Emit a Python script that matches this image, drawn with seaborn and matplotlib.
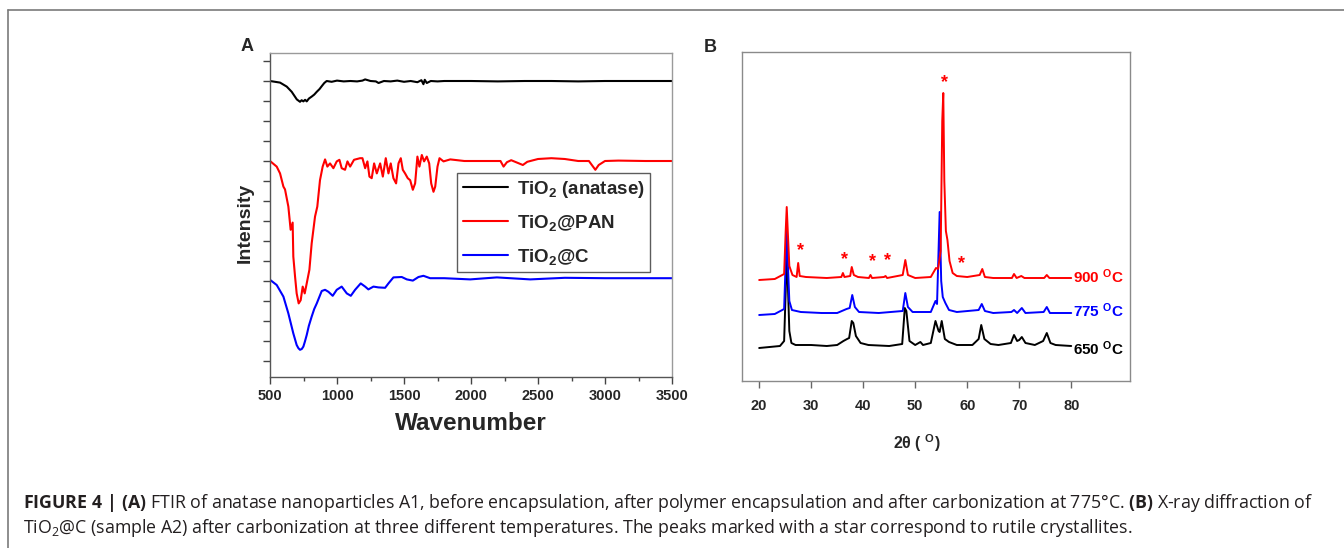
import numpy as np
import pandas as pd
import seaborn as sns
import matplotlib
matplotlib.use("Agg")
import matplotlib.pyplot as plt
from matplotlib.lines import Line2D
from matplotlib.ticker import MultipleLocator
from matplotlib import font_manager

# ---- FTIR (panel A) ----
black_wn = [500, 575, 625, 662, 700, 724, 736, 749, 762, 774, 790, 811, 830, 849, 870, 886, 905, 923, 960, 1000,
            1050, 1100, 1150, 1190, 1210, 1250, 1290, 1310, 1350, 1400, 1450, 1500, 1550, 1600, 1630, 1645, 1655, 1670,
            1700, 1750, 1800, 1900, 2000, 2200, 2400, 2600, 2800, 3000, 3200, 3500]
black_y = [7.0, 6.96, 6.86, 6.73, 6.54, 6.48, 6.52, 6.49, 6.53, 6.49, 6.56, 6.61, 6.66, 6.73, 6.8, 6.87, 6.95, 7.0, 6.98, 7.01,
           6.99, 7.0, 6.99, 7.01, 7.04, 7.0, 6.99, 6.95, 7.0, 6.99, 7.01, 6.98, 7.0, 6.97, 7.02, 6.92, 7.03, 6.95,
           7.0, 6.99, 7.0, 7.0, 7.0, 6.99, 7.0, 7.0, 6.99, 7.0, 7.0, 7.0]

red_wn = [500, 550, 575, 600, 612, 637, 654, 669, 674, 687, 699, 714, 729, 744, 759, 774, 794, 811, 836, 853,
          873, 893, 911, 928, 948, 973, 998, 1018, 1035, 1060, 1078, 1098, 1127, 1172, 1190, 1210, 1227, 1242, 1259, 1277,
          1297, 1322, 1342, 1364, 1384, 1401, 1421, 1441, 1459, 1476, 1491, 1508, 1528, 1546, 1566, 1583, 1600, 1615, 1633, 1650,
          1670, 1688, 1703, 1720, 1733, 1750, 1765, 1795, 1845, 1950, 2100, 2220, 2243, 2268, 2300, 2387, 2420, 2500, 2600, 2700,
          2800, 2880, 2928, 2953, 3000, 3100, 3300, 3500]
red_y = [5.0, 4.86, 4.69, 4.36, 4.29, 3.86, 3.28, 3.46, 2.61, 2.11, 1.69, 1.44, 1.52, 1.86, 1.69, 1.94, 2.28, 2.94, 3.61, 3.86,
         4.52, 4.86, 5.04, 4.86, 4.94, 4.82, 4.99, 5.03, 4.82, 4.78, 4.99, 4.86, 5.03, 5.07, 5.07, 4.82, 4.99, 4.61, 4.57, 4.94,
         4.69, 4.94, 4.61, 5.07, 4.69, 4.94, 4.57, 4.44, 4.94, 5.07, 4.78, 4.69, 4.57, 4.52, 4.28, 4.44, 5.11, 4.86, 5.15, 4.99,
         5.11, 4.94, 4.44, 4.23, 4.36, 4.86, 5.07, 4.99, 5.04, 5.0, 5.0, 5.0, 4.86, 4.97, 5.02, 4.9, 4.98, 5.05, 5.07, 5.05,
         5.0, 5.0, 4.78, 4.9, 5.0, 5.01, 5.0, 5.0]

blue_wn = [500, 550, 600, 637, 674, 699, 712, 724, 737, 749, 760, 774, 790, 811, 830, 849, 886, 911, 936, 968,
           998, 1035, 1073, 1103, 1135, 1177, 1210, 1234, 1272, 1309, 1359, 1384, 1421, 1483, 1521, 1566, 1608, 1645, 1695, 1800,
           1994, 2193, 2442, 2700, 3000, 3500]
blue_y = [2.03, 1.9, 1.61, 1.19, 0.69, 0.4, 0.32, 0.28, 0.3, 0.36, 0.48, 0.65, 0.88, 1.11, 1.3, 1.44, 1.75, 1.78, 1.73, 1.63,
          1.78, 1.86, 1.69, 1.63, 1.78, 1.94, 1.86, 1.79, 1.86, 1.84, 1.83, 1.94, 2.09, 2.1, 2.04, 2.01, 2.1, 2.13, 2.07, 2.07,
          2.04, 2.09, 2.04, 2.08, 2.07, 2.07]

ftir_labels = ["TiO$_2$ (anatase)", "TiO$_2$@PAN", "TiO$_2$@C"]

# ---- XRD (panel B) ----
t650 = [20, 22, 24, 24.8, 25.1, 25.3, 25.5, 25.8, 26.2, 27, 30, 33, 35, 36.2, 36.9, 37.3, 37.8, 38.1, 38.6, 39.5,
        41, 45, 47.5, 48.0, 48.3, 48.9, 50, 51, 51.5, 53, 53.9, 54.5, 54.7, 55.1, 55.7, 56.5, 58, 61, 62.2, 62.7,
        63.3, 64.5, 66, 68.4, 69.0, 69.6, 70.0, 70.5, 71.2, 73, 74.6, 75.3, 76.0, 77, 80]
i650 = [33, 34, 35, 40, 90, 131, 100, 50, 38, 36, 36, 35, 36, 40, 42, 43, 60, 58, 45, 38,
        36, 35, 37, 73, 70, 40, 36, 39, 36, 38, 60, 50, 49, 60, 42, 39, 36, 36, 42, 56,
        42, 37, 36, 38, 46, 40, 41, 44, 38, 36, 40, 48, 38, 36, 35]

t775 = [20, 23, 24.8, 25.1, 25.3, 25.5, 25.8, 26.3, 28, 32, 35, 36.8, 37.4, 37.9, 38.4, 39.2, 43, 47.6, 48.1, 48.6,
        49.5, 53, 53.9, 54.2, 54.7, 55.0, 55.3, 55.8, 56.5, 58, 62.2, 62.8, 63.4, 65, 68.5, 69.0, 69.6, 70.5, 71.2, 74.7,
        75.3, 75.9, 80]
i775 = [66, 67, 72, 120, 151, 120, 80, 71, 69, 68, 68, 72, 73, 86, 74, 69, 68, 70, 88, 74,
        69, 69, 80, 77, 169, 100, 84, 78, 71, 69, 71, 77, 70, 68, 69, 71, 68, 73, 68, 69,
        74, 68, 68]

t900 = [20, 23, 24.8, 25.1, 25.3, 25.5, 25.8, 26.4, 27.2, 27.5, 27.8, 29, 33, 35.8, 36.1, 36.4, 37.5, 37.8, 38.2, 39,
        41.1, 41.4, 41.7, 44, 44.3, 44.6, 47.6, 48.1, 48.6, 50, 53, 54.0, 54.4, 54.9, 55.2, 55.4, 55.6, 55.9, 56.2, 56.6,
        57.2, 58, 60, 62.4, 62.9, 63.4, 65, 68.6, 69.0, 69.5, 70.4, 71, 74.8, 75.3, 75.8, 80]
i900 = [101, 102, 107, 150, 174, 150, 115, 106, 104, 118, 105, 104, 103, 104, 108, 104, 105, 114, 106, 104,
        103, 106, 103, 104, 105, 103, 106, 121, 106, 103, 104, 113, 112, 130, 260, 288, 200, 150, 141, 120,
        108, 105, 104, 106, 112, 104, 103, 103, 107, 103, 105, 103, 103, 106, 103, 103]

xrd_labels = ["900 $^{O}$C", "775 $^{O}$C", "650 $^{O}$C"]
label_y = [104, 70, 32]
star_t = [28.0, 36.5, 41.8, 44.7, 55.7, 58.9]
star_i = [130, 121, 119, 120, 298, 117]

W, H = 1344, 548

sns.set_theme(style="ticks")
available = {f.name for f in font_manager.fontManager.ttflist}
narrow = "Liberation Sans Narrow" if "Liberation Sans Narrow" in available else "Liberation Sans"
plt.rcParams["font.family"] = ["Liberation Sans", "DejaVu Sans"]
plt.rcParams["mathtext.fontset"] = "custom"
plt.rcParams["mathtext.rm"] = "Open Sans"
plt.rcParams["mathtext.bf"] = "Open Sans:bold"
plt.rcParams["mathtext.it"] = "Open Sans:italic"
plt.rcParams["mathtext.default"] = "regular"


def fx(px):
    return px / W


def fy(py):
    return 1 - py / H


fig = plt.figure(figsize=(W / 100, H / 100), dpi=100)

# outer frame of the figure page
fig.add_artist(Line2D([fx(8), 1], [fy(10), fy(10)], transform=fig.transFigure, color="#7a7a7a", lw=1.2))
fig.add_artist(Line2D([fx(8), fx(8)], [0, fy(10)], transform=fig.transFigure, color="#7a7a7a", lw=1.2))

# ---------------- panel A ----------------
axA = fig.add_axes([fx(270), fy(377), fx(672) - fx(270), fy(53) - fy(377)])
ftir = pd.concat([
    pd.DataFrame({"wn": black_wn, "y": black_y, "s": ftir_labels[0]}),
    pd.DataFrame({"wn": red_wn, "y": red_y, "s": ftir_labels[1]}),
    pd.DataFrame({"wn": blue_wn, "y": blue_y, "s": ftir_labels[2]}),
])
sns.lineplot(data=ftir, x="wn", y="y", hue="s", palette=["black", "red", "blue"],
             sort=False, estimator=None, lw=1.5, ax=axA)
axA.set_xlim(500, 3500)
axA.set_ylim(-0.4, 7.7)
axA.xaxis.set_major_locator(MultipleLocator(500))
axA.xaxis.set_minor_locator(MultipleLocator(250))
axA.set_yticks(np.arange(0, 7.6, 0.5))
axA.set_yticklabels([])
axA.tick_params(axis="x", which="major", length=5, width=1, pad=4, labelsize=10.5, color="#444444")
axA.tick_params(axis="x", which="minor", length=3, width=1, color="#444444")
axA.tick_params(axis="y", length=5, width=1, color="#444444")
for lab in axA.get_xticklabels():
    lab.set_fontweight("bold")
for side, sp in axA.spines.items():
    sp.set_visible(True)
    sp.set_linewidth(1.0)
    sp.set_color("#555555" if side in ("left", "bottom") else "#9a9a9a")
axA.set_xlabel("Wavenumber", fontsize=17.5, fontweight="bold")
axA.xaxis.label.set_va("center")
axA.xaxis.set_label_coords(0.5, -0.142)
axA.set_ylabel("Intensity", fontsize=14, fontweight="bold")
axA.yaxis.label.set_va("center")
axA.yaxis.set_label_coords(-0.061, 0.475)
leg = axA.legend(loc="upper left", bbox_to_anchor=(0.465, 0.63), borderaxespad=0, fancybox=False,
                 frameon=True, handlelength=2.4, handletextpad=0.5, borderpad=0.3, labelspacing=0.72,
                 prop={"weight": "bold", "size": 13.5})
leg.get_frame().set_edgecolor("#333333")
leg.get_frame().set_linewidth(1.0)
for ln in leg.get_lines():
    ln.set_linewidth(1.5)
fig.text(fx(247.5), fy(46.5), "A", fontsize=13, fontweight="bold", ha="center", va="center")

# ---------------- panel B ----------------
axB = fig.add_axes([fx(742), fy(381), fx(1130) - fx(742), fy(52) - fy(381)])
xrd = pd.concat([
    pd.DataFrame({"t": t650, "i": i650, "s": "650"}),
    pd.DataFrame({"t": t775, "i": i775, "s": "775"}),
    pd.DataFrame({"t": t900, "i": i900, "s": "900"}),
])
sns.lineplot(data=xrd, x="t", y="i", hue="s", palette=["black", "blue", "red"],
             sort=False, estimator=None, lw=1.4, legend=False, ax=axB)
axB.set_xlim(16.7, 91.3)
axB.set_ylim(0, 329)
axB.set_xticks(range(20, 81, 10))
axB.set_yticks([])
axB.set_ylabel("")
axB.tick_params(axis="x", length=5, width=1, pad=8, labelsize=10.5, color="#666666")
for lab in axB.get_xticklabels():
    lab.set_fontweight("bold")
    lab.set_family(narrow)
for sp in axB.spines.values():
    sp.set_visible(True)
    sp.set_linewidth(1.0)
    sp.set_color("#8a8a8a")
axB.set_xlabel("2θ ( $^{O}$)", fontsize=11.5, fontweight="bold", family=narrow)
axB.xaxis.label.set_va("center")
axB.xaxis.set_label_coords(0.451, -0.188)
for txt, yy, col in zip(xrd_labels, label_y, ["red", "blue", "black"]):
    axB.text(80.4, yy, txt, color=col, fontsize=11, fontweight="bold", family=narrow, ha="left", va="center")
for tt, ii in zip(star_t, star_i):
    axB.text(tt, ii, "*", color="red", fontsize=13, fontweight="bold", ha="center", va="center")
fig.text(fx(710), fy(47.5), "B", fontsize=13, fontweight="bold", ha="center", va="center")

# ---------------- caption ----------------
cap1 = (r"$\mathbf{FIGURE\ 4\ |\ (A)}$ FTIR of anatase nanoparticles A1, before encapsulation, after polymer "
        r"encapsulation and after carbonization at 775°C. $\mathbf{(B)}$ X-ray diffraction of")
cap2 = ("TiO$_2$@C (sample A2) after carbonization at three different temperatures. "
        "The peaks marked with a star correspond to rutile crystallites.")
cap_style = dict(fontsize=12.8, color="#231f20", ha="left", va="center", family=["Open Sans", "DejaVu Sans"])
fig.text(fx(23), fy(503), cap1, **cap_style)
fig.text(fx(23), fy(528), cap2, **cap_style)

fig.savefig("out.png", dpi=100)
